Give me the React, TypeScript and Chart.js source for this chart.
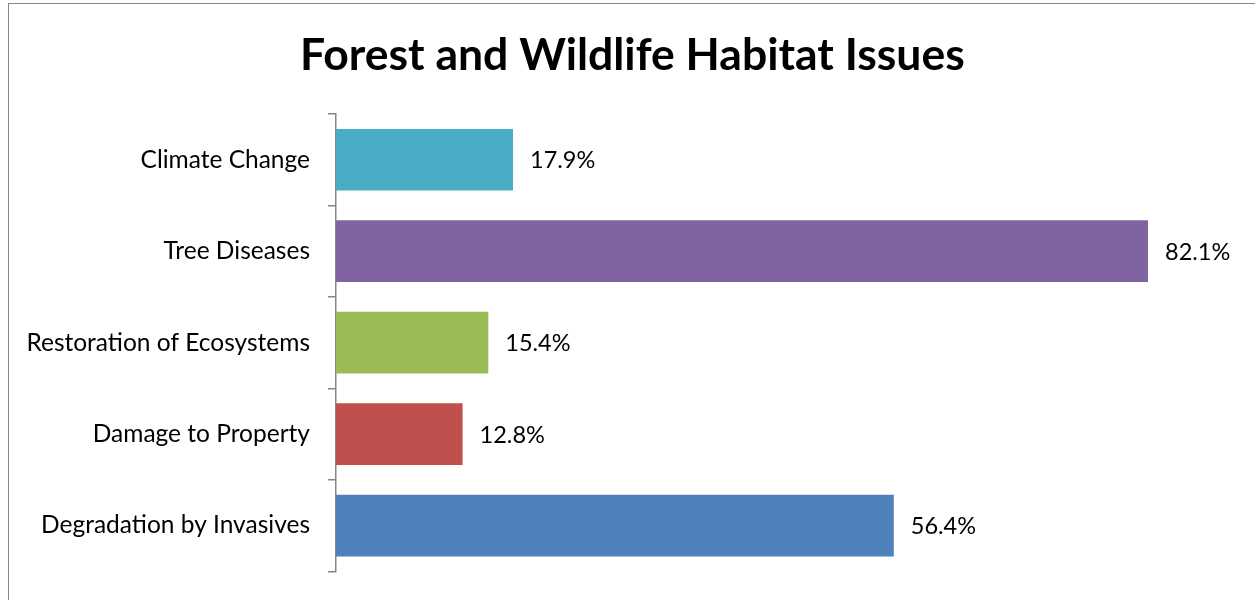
import React, { useEffect, useRef } from "react";
import { Chart, registerables } from "chart.js";

Chart.register(...registerables);

const categories = [
  "Climate Change",
  "Tree Diseases",
  "Restoration of Ecosystems",
  "Damage to Property",
  "Degradation by Invasives",
];
const values = [17.9, 82.1, 15.4, 12.8, 56.4];
const barColors = ["#4BACC6", "#8064A2", "#9BBB59", "#C0504D", "#4F81BD"];
const titleText = "Forest and Wildlife Habitat Issues";

const FONT = "Lato, 'Open Sans', sans-serif";

const valueLabels = {
  id: "valueLabels",
  afterDatasetsDraw(chart: any) {
    const ctx = chart.ctx;
    const meta = chart.getDatasetMeta(0);
    ctx.save();
    ctx.font = `23.5px ${FONT}`;
    ctx.fillStyle = "#000";
    ctx.textAlign = "left";
    ctx.textBaseline = "middle";
    meta.data.forEach((bar: any, i: number) => {
      const v = chart.data.datasets[0].data[i];
      ctx.fillText(`${v.toFixed(1)}%`, bar.x + 17, bar.y + 1);
    });
    ctx.restore();
  },
};

export default function App() {
  const ref = useRef<HTMLCanvasElement | null>(null);
  useEffect(() => {
    if (!ref.current) return;
    const chart = new Chart(ref.current, {
      type: "bar",
      data: {
        labels: categories,
        datasets: [
          {
            data: values,
            backgroundColor: barColors,
            borderWidth: 0,
            categoryPercentage: 1,
            barPercentage: 0.674,
          },
        ],
      },
      plugins: [valueLabels],
      options: {
        indexAxis: "y",
        animation: false,
        responsive: false,
        maintainAspectRatio: false,
        layout: { padding: { top: 0, left: 0, right: 3.2, bottom: 30 } },
        plugins: {
          legend: { display: false },
          tooltip: { enabled: false },
          title: {
            display: true,
            text: titleText,
            color: "#000",
            font: { family: FONT, size: 44.5, weight: "bold", lineHeight: 1.2 },
            padding: { top: 25, bottom: 31.6 },
          },
        },
        scales: {
          x: {
            display: false,
            min: 0,
            max: 93,
          },
          y: {
            afterFit(scale: any) {
              scale.width = 327;
            },
            border: { display: true, color: "#868686", width: 1.5 },
            grid: {
              offset: true,
              drawOnChartArea: false,
              drawTicks: true,
              tickLength: 8,
              color: "#868686",
              lineWidth: 1.5,
            },
            ticks: {
              color: "#000",
              padding: 18,
              font: { family: FONT, size: 24.5 },
            },
          },
        },
      },
    } as any);
    return () => chart.destroy();
  }, []);

  return (
    <div style={{ position: "fixed", left: 0, top: 0, width: 1255, height: 600, overflow: "hidden", background: "#fff" }}>
      <div
        style={{
          position: "absolute",
          left: 8,
          top: 3,
          width: 1260,
          height: 620,
          borderLeft: "1px solid #868686",
          borderTop: "1px solid #868686",
        }}
      >
        <canvas ref={ref} width={1250} height={600} style={{ display: "block", width: 1250, height: 600 }} />
      </div>
    </div>
  );
}
